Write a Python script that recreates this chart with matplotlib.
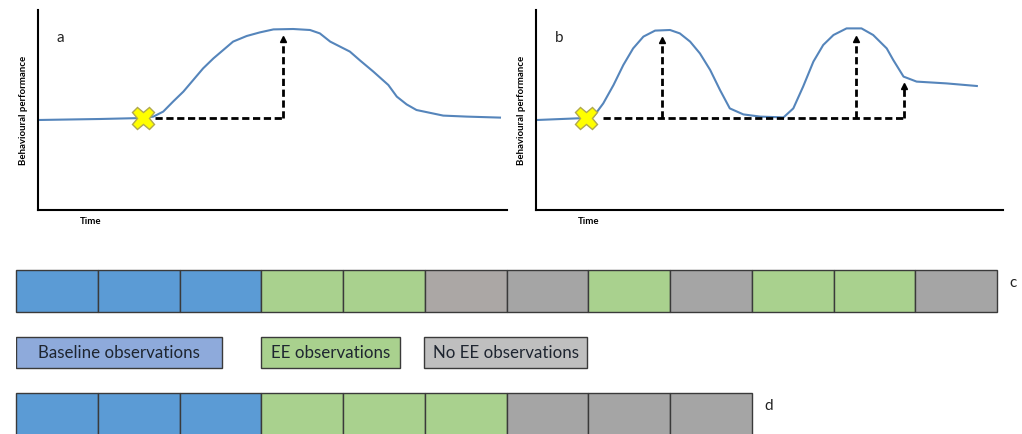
import matplotlib
matplotlib.use("Agg")
import matplotlib.pyplot as plt
from matplotlib.patches import Rectangle

plt.rcParams['font.family'] = ['Lato', 'DejaVu Sans']

# panel a: time (0-100) vs behavioural performance (0-100)
a_time = [0, 13.2, 22.4, 24.6, 26.7, 28.8, 31.0, 33.1, 35.2, 37.4, 39.5,
          41.6, 44.5, 47.3, 50.2, 54.4, 58.0, 60.1, 62.3, 66.5, 68.7, 71.5,
          74.7, 76.5, 78.6, 80.7, 86.4, 91.4, 98.5]
a_perf = [45, 45.5, 46, 46.7, 49.2, 54.2, 59.2, 65, 70.8, 75.8, 80,
          84.2, 87, 88.8, 90.3, 90.5, 90, 88.3, 84.2, 79.2, 74.7, 69.2,
          62.5, 56.7, 52.8, 50, 47.2, 46.7, 46.2]
a_start = (22.4, 45.8)
a_dash_from = 24.9
a_arrows = [(52.3, 87.5)]

# panel b
b_time = [0.2, 10.7, 12.3, 14.4, 16.6, 18.7, 20.8, 23.0, 25.5, 28.7, 30.8,
          33.0, 35.1, 37.3, 39.4, 41.5, 44.4, 48.0, 53.0, 55.1, 57.2, 59.4,
          61.5, 63.7, 66.5, 69.7, 72.2, 75.1, 76.5, 78.7, 81.5, 87.9, 94.4]
b_perf = [45, 46, 46.7, 53.3, 62.5, 72.5, 80.8, 86.7, 89.7, 90, 88.3,
          84.2, 78.3, 70, 60, 50.8, 47.8, 46.7, 46.3, 50.8, 61.7, 74.2,
          82.5, 87.5, 90.8, 90.8, 87.5, 80.8, 75, 66.7, 64.2, 63.3, 62]
b_start = (10.7, 45.8)
b_dash_from = 14.3
b_arrows = [(26.9, 86.7), (68.5, 87.5), (78.8, 63.7)]

# observation schedules
schedule_c = ['base', 'base', 'base', 'ee', 'ee', 'noee0', 'noee', 'ee',
              'noee', 'ee', 'ee', 'noee']
schedule_d = ['base', 'base', 'base', 'ee', 'ee', 'ee', 'noee', 'noee', 'noee']
legend_labels = ['Baseline observations', 'EE observations', 'No EE observations']

cell_colors = {'base': '#5b9bd5', 'ee': '#a9d18e', 'noee': '#a5a5a5',
               'noee0': '#aba7a5'}
legend_colors = ['#8eaadb', '#a9d18e', '#bfbfbf']
line_color = '#5585bb'

W, H = 1022, 434
fig = plt.figure(figsize=(W / 100, H / 100), dpi=100)


def px_axes(x0, y0, x1, y1):
    return fig.add_axes([x0 / W, 1 - y1 / H, (x1 - x0) / W, (y1 - y0) / H])


def curve_panel(ax, t, p, start, dash_from, arrows, letter):
    ax.plot(t, p, color=line_color, lw=1.5, zorder=2)
    base = start[1]
    ax.plot([dash_from, arrows[-1][0]], [base, base], color='black',
            lw=2, dashes=(2.6, 1.3), zorder=3)
    for x, tip in arrows:
        ax.plot([x, x], [base, tip - 2.2], color='black', lw=2,
                dashes=(2.6, 1.3), zorder=3)
        ax.plot([x], [tip - 1.8], marker='^', color='black', ms=5, zorder=3)
    ax.plot([start[0]], [start[1]], marker='X', ms=16, color='#ffff00',
            mec='#b0a850', mew=1.0, zorder=4)
    ax.set_xlim(0, 100)
    ax.set_ylim(0, 100)
    ax.set_xticks([])
    ax.set_yticks([])
    for s in ['top', 'right']:
        ax.spines[s].set_visible(False)
    for s in ['left', 'bottom']:
        ax.spines[s].set_linewidth(1.5)
    ax.text(4, 84, letter, fontsize=11, color='#222222')
    ax.set_ylabel('Behavioural performance', fontsize=6.9, fontweight='bold',
                  labelpad=7)
    ax.text(11.3, -5.5, 'Time', fontsize=6.9, fontweight='bold', ha='center',
            va='center')


ax_a = px_axes(38, 10, 507, 210)
curve_panel(ax_a, a_time, a_perf, a_start, a_dash_from, a_arrows, 'a')
ax_b = px_axes(536, 10, 1003, 210)
curve_panel(ax_b, b_time, b_perf, b_start, b_dash_from, b_arrows, 'b')

# lower part: cells in schedule units, y in pixel rows
ax_c = px_axes(16, 0, 997, H)
ax_c.set_xlim(0, 12)
ax_c.set_ylim(H, 0)
ax_c.axis('off')


def draw_row(sched, top, bottom, letter):
    for i, key in enumerate(sched):
        ax_c.add_patch(Rectangle((i, top), 1, bottom - top,
                                 facecolor=cell_colors[key],
                                 edgecolor='#3a3a3a', lw=1.0, clip_on=False))
    ax_c.text(len(sched) + 0.15, (top + min(bottom, top + 42)) / 2 - 8, letter,
              fontsize=11, color='#222222', va='center')


draw_row(schedule_c, 270, 312, 'c')
draw_row(schedule_d, 393, 440, 'd')

legend_spans = [(0, 2.52), (3.0, 4.70), (4.99, 6.99)]
for (x0, x1), lab, col in zip(legend_spans, legend_labels, legend_colors):
    ax_c.add_patch(Rectangle((x0, 337), x1 - x0, 31, facecolor=col,
                             edgecolor='#3a3a3a', lw=1.0))
    ax_c.text((x0 + x1) / 2, 353, lab, ha='center', va='center',
              fontsize=12.2, color='#1e2530')

fig.savefig('out.png', dpi=100)
